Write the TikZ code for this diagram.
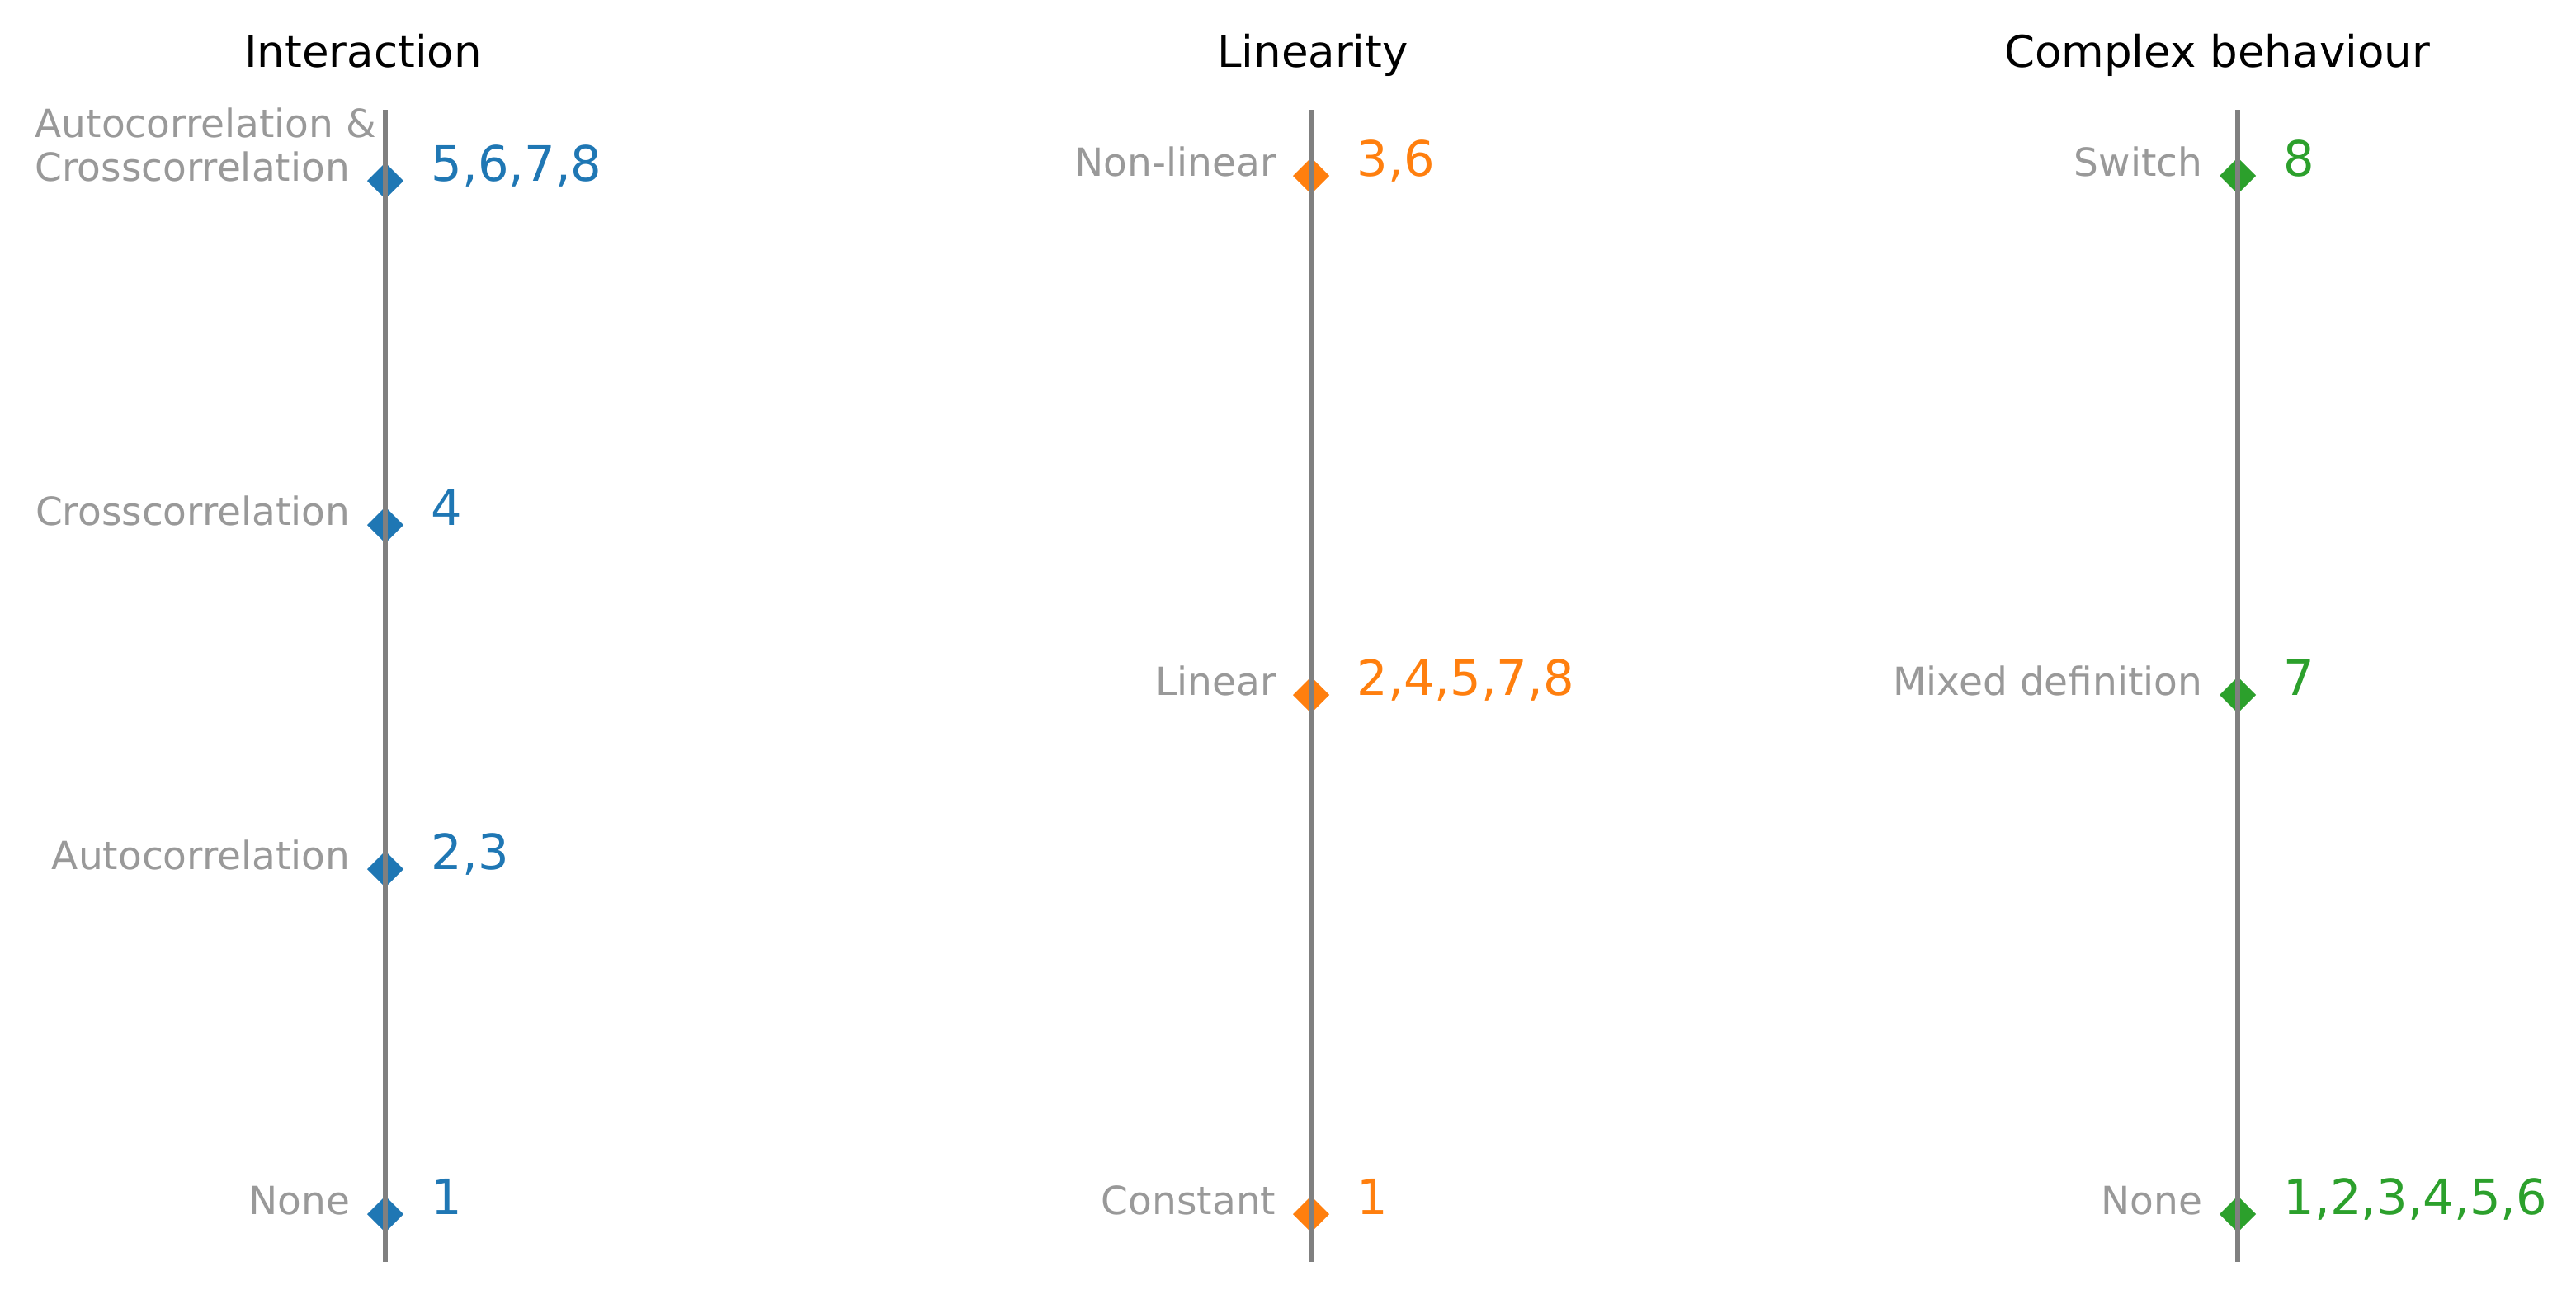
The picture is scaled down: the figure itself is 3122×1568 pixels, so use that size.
\documentclass[tikz,border=0pt]{standalone}
\usepackage{fontspec}
\setmainfont{DejaVu Sans}
\usetikzlibrary{shapes.geometric}
\definecolor{cblue}{HTML}{1F77B4}
\definecolor{corange}{HTML}{FF7F0E}
\definecolor{cgreen}{HTML}{2CA02C}
\definecolor{axgray}{HTML}{808080}
\definecolor{labgray}{HTML}{999999}
\newcommand\ttlfnt{\fontsize{15.08}{18}\selectfont}
\newcommand\lblfnt{\fontsize{13.37}{14.8}\selectfont}
\newcommand\numfnt{\fontsize{16.8}{20}\selectfont}
\tikzset{
  ttl/.style={font=\ttlfnt, text=black, anchor=base, inner sep=0pt},
  lbl/.style={font=\lblfnt, text=labgray, anchor=base east, inner sep=0pt},
  num/.style={font=\numfnt, anchor=base west, inner sep=0pt},
  mk/.style={shape=diamond, fill=#1, draw=none, minimum width=0.44cm, minimum height=0.44cm, inner sep=0pt, outer sep=0pt},
  axline/.style={draw=axgray, line width=0.06cm}
}
\begin{document}
\begin{tikzpicture}[x=0.01cm, y=-0.01cm]
\useasboundingbox[fill=white] (0,0) rectangle (3122,1568);
% titles
\node[ttl] (t1) at (440,81) {Interaction};
\node[ttl] (t2) at (1591,81) {Linearity};
\node[ttl] (t3) at (2687,81) {Complex behaviour};
% markers
\node[mk=cblue] (a1) at (467,219) {};
\node[mk=cblue] (a2) at (467,636) {};
\node[mk=cblue] (a3) at (467,1053) {};
\node[mk=cblue] (a4) at (467,1471) {};
\node[mk=corange] (b1) at (1589,213) {};
\node[mk=corange] (b2) at (1589,842) {};
\node[mk=corange] (b3) at (1589,1471) {};
\node[mk=cgreen] (c1) at (2712,213) {};
\node[mk=cgreen] (c2) at (2712,842) {};
\node[mk=cgreen] (c3) at (2712,1471) {};
% axis lines
\coordinate (atop) at (467,133); \coordinate (abot) at (467,1529);
\coordinate (btop) at (1589,133); \coordinate (bbot) at (1589,1529);
\coordinate (ctop) at (2712,133); \coordinate (cbot) at (2712,1529);
\draw[axline] (atop) -- (abot);
\draw[axline] (btop) -- (bbot);
\draw[axline] (ctop) -- (cbot);
% labels interaction
\node[font=\lblfnt, text=labgray, anchor=base west, inner sep=0pt] (la1) at (42,219)
  {\begin{tabular}[b]{@{}l@{}}Autocorrelation \&\\Crosscorrelation\end{tabular}};
\node[lbl] (la2) at (425,636) {Crosscorrelation};
\node[lbl] (la3) at (425,1053) {Autocorrelation};
\node[lbl] (la4) at (425,1471) {None};
\node[num, text=cblue] (na1) at (522,219) {5,6,7,8};
\node[num, text=cblue] (na2) at (522,636) {4};
\node[num, text=cblue] (na3) at (522,1053) {2,3};
\node[num, text=cblue] (na4) at (522,1471) {1};
% labels linearity
\node[lbl] (lb1) at (1547,213) {Non-linear};
\node[lbl] (lb2) at (1547,842) {Linear};
\node[lbl] (lb3) at (1547,1471) {Constant};
\node[num, text=corange] (nb1) at (1644,213) {3,6};
\node[num, text=corange] (nb2) at (1644,842) {2,4,5,7,8};
\node[num, text=corange] (nb3) at (1644,1471) {1};
% labels complex
\node[lbl] (lc1) at (2670,213) {Switch};
\node[lbl] (lc2) at (2670,842) {Mixed definition};
\node[lbl] (lc3) at (2670,1471) {None};
\node[num, text=cgreen] (nc1) at (2767,213) {8};
\node[num, text=cgreen] (nc2) at (2767,842) {7};
\node[num, text=cgreen] (nc3) at (2767,1471) {1,2,3,4,5,6};
\end{tikzpicture}
\end{document}
